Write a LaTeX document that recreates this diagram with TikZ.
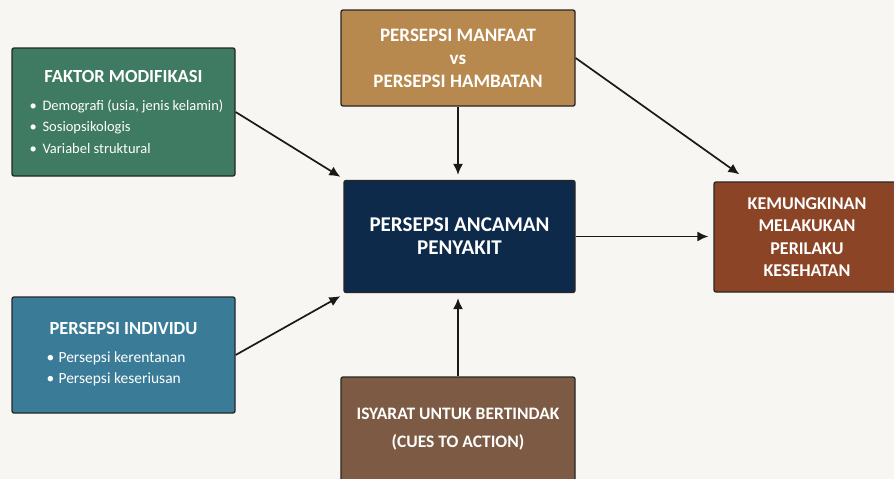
\documentclass[tikz,border=0pt]{standalone}
\usepackage{fontspec}
\setmainfont{Carlito}
\usetikzlibrary{arrows.meta,positioning}

\definecolor{bgcol}{HTML}{F7F6F2}
\definecolor{fmcol}{HTML}{3F7A62}
\definecolor{pmcol}{HTML}{B8894F}
\definecolor{ancol}{HTML}{0E2A4A}
\definecolor{kmcol}{HTML}{8B4526}
\definecolor{picol}{HTML}{3A7C98}
\definecolor{cucol}{HTML}{7C5A44}

\tikzset{
  box/.style={draw=black!85, line width=1.3pt, rounded corners=2pt, text=white,
    font=\bfseries, align=center, inner sep=0pt},
  boxtitle/.style={text=white, font=\bfseries\fontsize{18.5}{22}\selectfont, inner sep=0pt, anchor=base},
  item/.style={text=white, inner sep=0pt, anchor=base west},
  arr/.style={-{Latex[length=11pt,width=10pt]}, line width=1.7pt, black!90},
}

\begin{document}
\begin{tikzpicture}[x=1pt,y=1pt]
\fill[bgcol] (0,0) rectangle (894,-479);
\useasboundingbox (0,0) rectangle (894,-479);
\clip (0,0) rectangle (894,-479);

% boxes
\node[box, fill=fmcol, minimum width=223, minimum height=128] (fm) at (123.5,-112) {};
\node[box, fill=pmcol, minimum width=234, minimum height=96,
  font=\bfseries\fontsize{19}{23}\selectfont] (pm) at (458,-58)
  {PERSEPSI MANFAAT\\vs\\PERSEPSI HAMBATAN};
\node[box, fill=ancol, minimum width=231, minimum height=112,
  font=\bfseries\fontsize{21}{23}\selectfont] (an) at (459.5,-236.5)
  {PERSEPSI ANCAMAN\\PENYAKIT};
\node[box, fill=kmcol, minimum width=186, minimum height=110,
  font=\bfseries\fontsize{18}{22.5}\selectfont] (km) at (807,-237)
  {KEMUNGKINAN\\MELAKUKAN\\PERILAKU\\KESEHATAN};
\node[box, fill=picol, minimum width=223, minimum height=116] (pi) at (123.5,-355) {};
\node[box, fill=cucol, minimum width=234, minimum height=104,
  font=\bfseries\fontsize{17.5}{28}\selectfont] (cu) at (458,-429)
  {ISYARAT UNTUK BERTINDAK\\(CUES TO ACTION)};

% texts of the side boxes
\node[boxtitle] (fmtitle) at ([yshift=-35]fm.north) {FAKTOR MODIFIKASI};
\foreach \t [count=\i] in {{Demografi (usia, jenis kelamin)},Sosiopsikologis,Variabel struktural}
  \node[item, font=\fontsize{14.5}{17}\selectfont] (fmi\i) at ([xshift=18,yshift=-41.5-21.5*\i]fm.north west)
    {\makebox[13pt][l]{\textbullet}\t};

\node[boxtitle] (pititle) at ([yshift=-38]pi.north) {PERSEPSI INDIVIDU};
\foreach \t [count=\i] in {Persepsi kerentanan,Persepsi keseriusan}
  \node[item, font=\fontsize{15.5}{18}\selectfont] (pii\i) at ([xshift=35,yshift=-45-21*\i]pi.north west)
    {\makebox[12pt][l]{\textbullet}\t};

% arrows
\draw[arr] (fm.east) -- ([xshift=-3,yshift=3]an.north west);
\draw[arr] (pi.east) -- ([xshift=-3,yshift=-3]an.south west);
\draw[arr] (pm.south) -- ([yshift=5]pm.south |- an.north);
\draw[arr] (cu.north) -- ([yshift=-5]cu.north |- an.south);
\draw[arr] (pm.east) -- ([xshift=26,yshift=7]km.north west);
\draw[arr] (an.east) -- ([xshift=-5]km.west |- an.east);
\end{tikzpicture}
\end{document}
